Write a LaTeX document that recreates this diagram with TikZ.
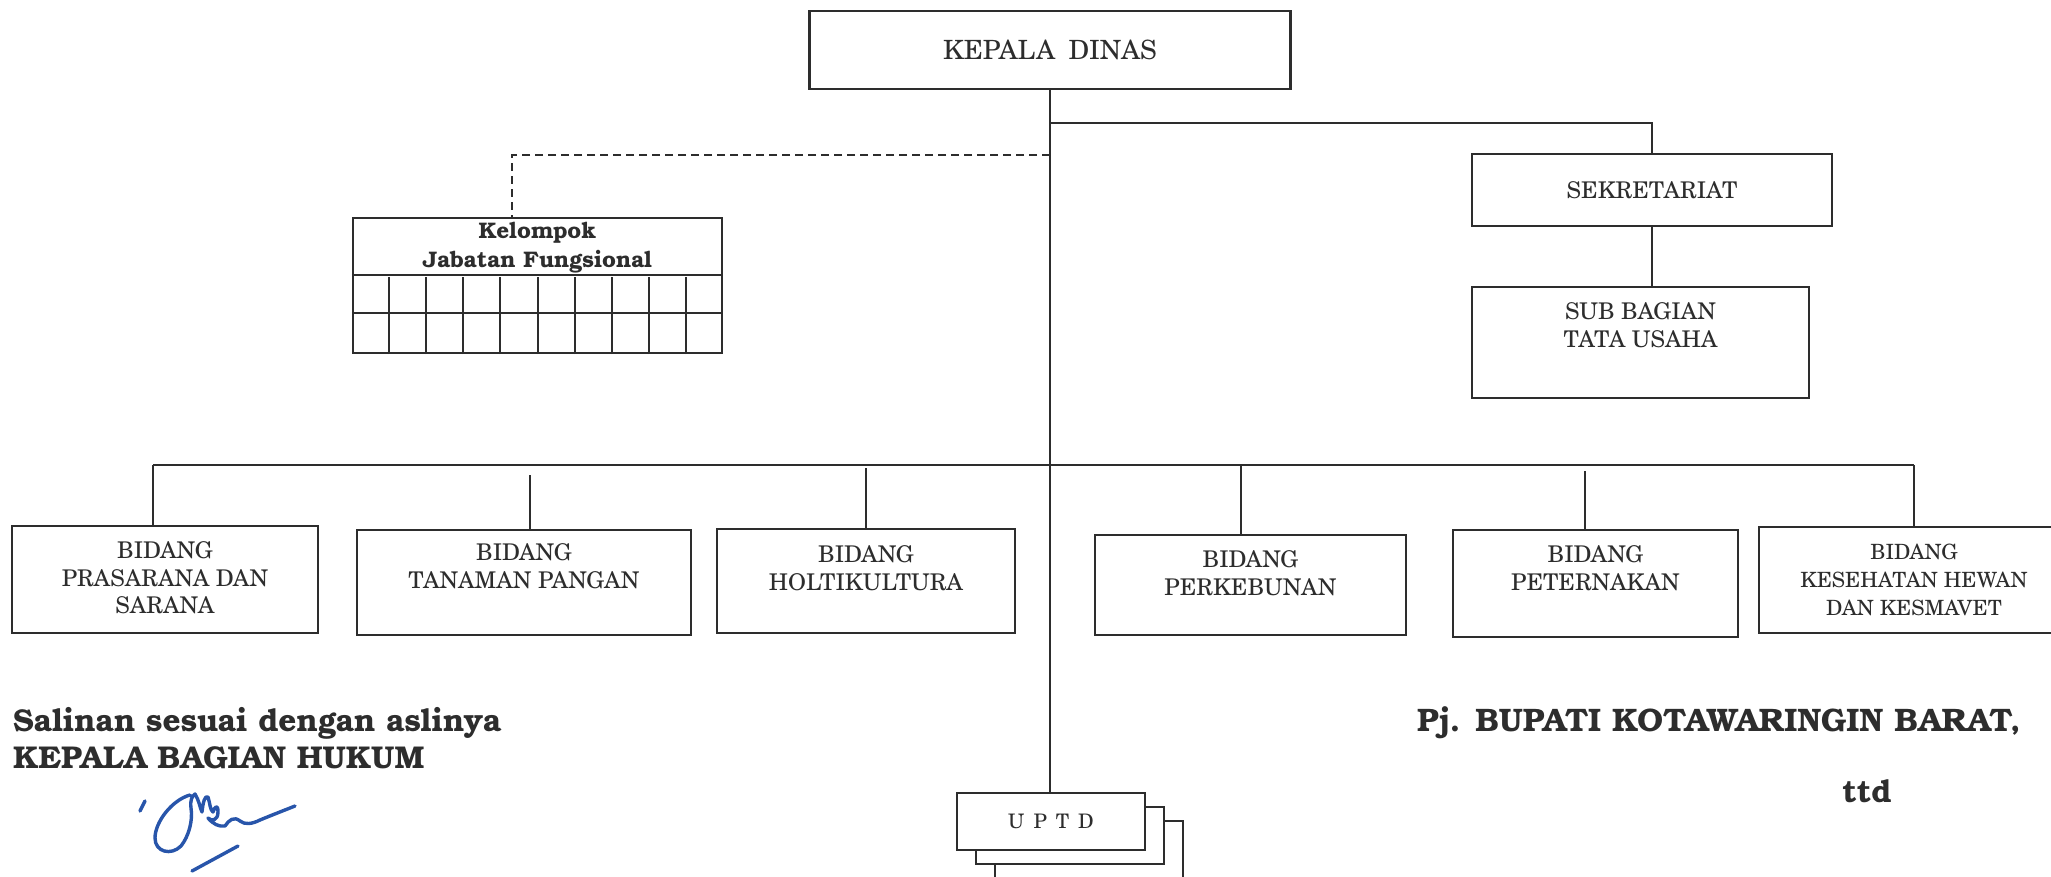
\documentclass[tikz,border=0pt]{standalone}
\usepackage{fontspec}
\setmainfont{texgyreschola}[Extension=.otf, UprightFont=*-regular, BoldFont=*-bold, ItalicFont=*-italic, BoldItalicFont=*-bolditalic]
\newfontfamily\bookbold{texgyrebonum}[Extension=.otf, UprightFont=*-bold, BoldFont=*-bold]
\usetikzlibrary{calc}
\definecolor{ink}{RGB}{45,45,45}
\definecolor{pen}{RGB}{40,85,170}
\begin{document}
\begin{tikzpicture}[x=1pt,y=-1pt,
  box/.style={draw=ink, line width=2.4pt, fill=white, inner sep=0pt},
  lbl/.style={text=ink, align=center, inner sep=0pt, font=\fontsize{23}{27.5}\selectfont},
  conn/.style={draw=ink, line width=2pt},
  dconn/.style={draw=ink, line width=2pt, dash pattern=on 8pt off 5pt},
  signtext/.style={text=ink, inner sep=0pt, font=\bookbold\fontsize{31.5}{36}\selectfont},
  sig/.style={draw=pen, line width=3.4pt, line cap=round, line join=round}]
\useasboundingbox (0,0) rectangle (2051,876);
\clip (0,0) rectangle (2051,876);
\fill[white] (0,0) rectangle (2051,876);

% ---- connector junctions ----
\coordinate (jS) at (1050,123);
\coordinate (jK) at (1050,155);
\coordinate (hL) at (153,465);
\coordinate (hR) at (1914,465);
\coordinate (c2) at (530,475);
\coordinate (c3) at (866,468);
\coordinate (c4) at (1241,465);
\coordinate (c5) at (1585,471);

% ---- top ----
\node[box, lbl, font=\fontsize{26.5}{30}\selectfont, minimum width=481pt, minimum height=78pt] (kd) at (1050,50) {KEPALA\hspace{0.5em}DINAS};
\node[box, lbl, minimum width=360pt, minimum height=72pt] (sek) at (1652,190) {SEKRETARIAT};
\node[box, minimum width=337pt, minimum height=111pt] (sub) at (1640.5,342.5) {};
\node[lbl, anchor=north] (subt) at ([yshift=-17pt]sub.north) {SUB BAGIAN\\TATA USAHA};

% ---- Kelompok Jabatan Fungsional ----
\node[box, minimum width=369pt, minimum height=135pt] (kel) at (537.5,285.5) {};
\draw[draw=ink, line width=2pt] ([yshift=-58pt]kel.north west) -- ([yshift=-58pt]kel.north east);
\draw[draw=ink, line width=2pt] ([yshift=-96pt]kel.north west) -- ([yshift=-96pt]kel.north east);
\foreach \i in {1,...,9}
  \draw[draw=ink, line width=2pt] ($(kel.south west)!\i/10!(kel.south east)$) -- ++(0,-77);
\node[lbl, font=\bookbold\fontsize{22.5}{29}\selectfont] (kelt) at (537.5,248) {Kelompok\\Jabatan Fungsional};

% ---- bidang ----
\node[box, minimum width=306pt, minimum height=107pt] (b1) at (165,579.5) {};
\node[box, minimum width=334pt, minimum height=105pt] (b2) at (524,582.5) {};
\node[box, minimum width=298pt, minimum height=104pt] (b3) at (866,581) {};
\node[box, minimum width=311pt, minimum height=100pt] (b4) at (1250.5,585) {};
\node[box, minimum width=285pt, minimum height=107pt] (b5) at (1595.5,583.5) {};
\node[box, minimum width=310pt, minimum height=106pt] (b6) at (1914,580) {};
\node[lbl, anchor=north] (t1) at ([yshift=-17pt]b1.north) {BIDANG\\PRASARANA DAN\\SARANA};
\node[lbl, anchor=north] (t2) at ([yshift=-15pt]b2.north) {BIDANG\\TANAMAN PANGAN};
\node[lbl, anchor=north] (t3) at ([yshift=-18pt]b3.north) {BIDANG\\HOLTIKULTURA};
\node[lbl, anchor=north] (t4) at ([yshift=-17pt]b4.north) {BIDANG\\PERKEBUNAN};
\node[lbl, anchor=north] (t5) at ([yshift=-17pt]b5.north) {BIDANG\\PETERNAKAN};
\node[lbl, anchor=north, font=\fontsize{21}{28}\selectfont] (t6) at ([yshift=-18pt]b6.north) {BIDANG\\KESEHATAN HEWAN\\DAN KESMAVET};

% ---- UPTD stack ----
\node[box, minimum width=188pt, minimum height=57pt] (u3) at (1089,849.5) {};
\node[box, minimum width=188pt, minimum height=57pt] (u2) at (1070,835.5) {};
\node[box, lbl, font=\fontsize{20}{24}\selectfont, minimum width=188pt, minimum height=57pt] (uptd) at (1051,821.5) {U\hspace{9pt}P\hspace{9pt}T\hspace{9pt}D};

% ---- lines ----
\draw[conn] (kd.south) -- (kd.south |- uptd.north);
\draw[conn] (jS) -| (sek.north);
\draw[conn] (sek.south) -- (sek.south |- sub.north);
\draw[dconn] (jK) -| ([xshift=-25.5pt]kel.north);
\draw[conn] (hL) -- (hR);
\draw[conn] (hL) -- (hL |- b1.north);
\draw[conn] (c2) -- (c2 |- b2.north);
\draw[conn] (c3) -- (c3 |- b3.north);
\draw[conn] (c4) -- (c4 |- b4.north);
\draw[conn] (c5) -- (c5 |- b5.north);
\draw[conn] (hR) -- (hR |- b6.north);

% ---- signature block ----
\node[signtext, anchor=base west] (sal1) at (13,731) {Salinan sesuai dengan aslinya};
\node[signtext, anchor=base west] (sal2) at (13,768) {KEPALA BAGIAN HUKUM};
\node[signtext, anchor=base west, font=\bookbold\fontsize{32.5}{36}\selectfont] (pj) at (1417,731) {Pj. BUPATI KOTAWARINGIN BARAT,};
\node[signtext, anchor=base] (ttd) at (1867,802) {ttd};

% hand-written signature
\draw[sig] (140,811) -- (145,801);
\draw[sig] (190,795) .. controls (172,800) and (155,822) .. (155,838)
  .. controls (155,852) and (171,856) .. (181,846)
  .. controls (189,836) and (193,820) .. (191,808)
  .. controls (190,800) and (192,796) .. (195,794)
  .. controls (199,800) and (200,808) .. (202,812)
  .. controls (203,802) and (205,795) .. (208,797)
  .. controls (210,803) and (210,810) .. (213,812)
  .. controls (215,806) and (218,804) .. (218,812)
  .. controls (218,820) and (212,822) .. (208,818)
  .. controls (213,824) and (219,827) .. (225,826)
  .. controls (229,820) and (234,816) .. (240,821)
  .. controls (245,825) and (252,824) .. (260,820)
  .. controls (272,815) and (285,810) .. (295,806);
\draw[sig] (192,871) -- (238,846);
\end{tikzpicture}
\end{document}
